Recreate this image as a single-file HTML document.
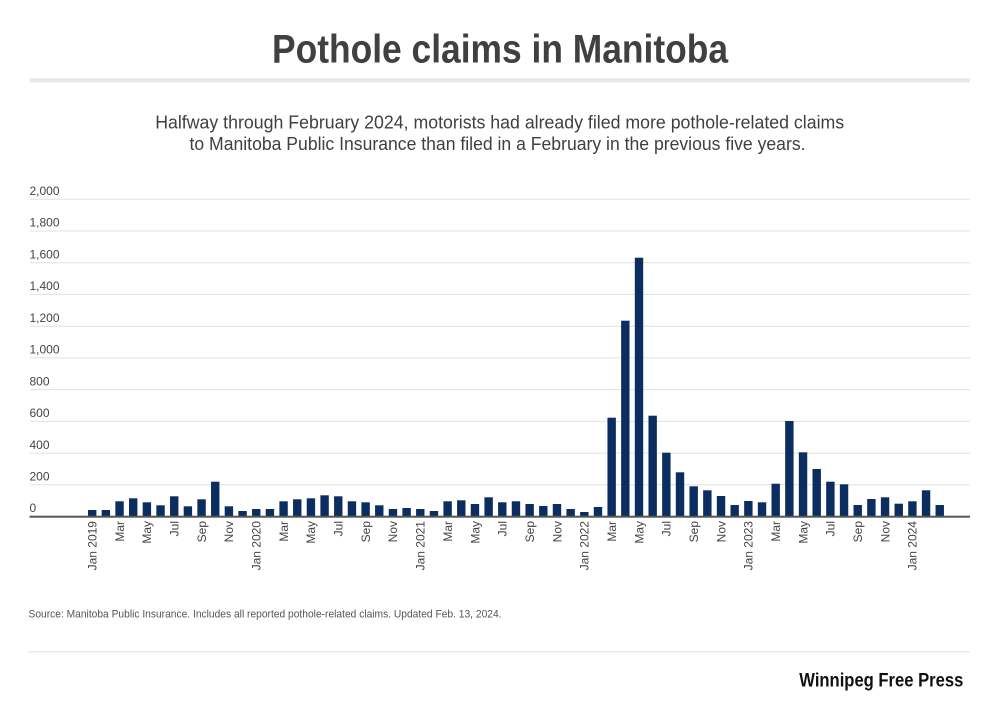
<!DOCTYPE html>
<html><head><meta charset="utf-8"><style>
html,body{margin:0;padding:0;background:#fff;}
svg{display:block;font-family:"Liberation Sans",Arial,sans-serif;}
</style></head><body>
<svg width="1000" height="713" viewBox="0 0 1000 713" xmlns="http://www.w3.org/2000/svg">
<rect width="1000" height="713" fill="#fff"/>
<text x="500" y="62.3" text-anchor="middle" font-size="40" font-weight="bold" fill="#404040" textLength="456" lengthAdjust="spacingAndGlyphs">Pothole claims in Manitoba</text>
<rect x="29.5" y="78.3" width="940.5" height="4" fill="#e8e8e8"/>
<text x="499.7" y="128.5" text-anchor="middle" font-size="18" fill="#404040" textLength="689" lengthAdjust="spacingAndGlyphs">Halfway through February 2024, motorists had already filed more pothole-related claims</text>
<text x="497.5" y="150" text-anchor="middle" font-size="18" fill="#404040" textLength="616" lengthAdjust="spacingAndGlyphs">to Manitoba Public Insurance than filed in a February in the previous five years.</text>
<g stroke="#e0e0e0" stroke-width="1">
<line x1="30" x2="970" y1="199.3" y2="199.3"/>
<line x1="30" x2="970" y1="231" y2="231"/>
<line x1="30" x2="970" y1="262.7" y2="262.7"/>
<line x1="30" x2="970" y1="294.4" y2="294.4"/>
<line x1="30" x2="970" y1="326.2" y2="326.2"/>
<line x1="30" x2="970" y1="357.9" y2="357.9"/>
<line x1="30" x2="970" y1="389.6" y2="389.6"/>
<line x1="30" x2="970" y1="421.4" y2="421.4"/>
<line x1="30" x2="970" y1="453.1" y2="453.1"/>
<line x1="30" x2="970" y1="484.8" y2="484.8"/>
</g>
<g font-size="12" fill="#444">
<text x="29.5" y="195">2,000</text>
<text x="29.5" y="226.7">1,800</text>
<text x="29.5" y="258.4">1,600</text>
<text x="29.5" y="290.1">1,400</text>
<text x="29.5" y="321.9">1,200</text>
<text x="29.5" y="353.6">1,000</text>
<text x="29.5" y="385.3">800</text>
<text x="29.5" y="417.1">600</text>
<text x="29.5" y="448.8">400</text>
<text x="29.5" y="480.5">200</text>
<text x="29.5" y="512.2">0</text>
</g>
<g fill="#0b2d5f">
<rect x="88.0" y="510.0" width="8.4" height="6.7"/>
<rect x="101.67" y="510.0" width="8.4" height="6.7"/>
<rect x="115.34" y="501.3" width="8.4" height="15.4"/>
<rect x="129.01" y="498.3" width="8.4" height="18.4"/>
<rect x="142.68" y="502.3" width="8.4" height="14.4"/>
<rect x="156.35" y="505.3" width="8.4" height="11.4"/>
<rect x="170.02" y="496.3" width="8.4" height="20.4"/>
<rect x="183.69" y="506.3" width="8.4" height="10.4"/>
<rect x="197.36" y="499.3" width="8.4" height="17.4"/>
<rect x="211.03" y="481.7" width="8.4" height="35.0"/>
<rect x="224.7" y="506.3" width="8.4" height="10.4"/>
<rect x="238.37" y="511.0" width="8.4" height="5.7"/>
<rect x="252.04" y="509.0" width="8.4" height="7.7"/>
<rect x="265.71" y="509.0" width="8.4" height="7.7"/>
<rect x="279.38" y="501.3" width="8.4" height="15.4"/>
<rect x="293.05" y="499.3" width="8.4" height="17.4"/>
<rect x="306.72" y="498.3" width="8.4" height="18.4"/>
<rect x="320.39" y="495.3" width="8.4" height="21.4"/>
<rect x="334.06" y="496.3" width="8.4" height="20.4"/>
<rect x="347.73" y="501.3" width="8.4" height="15.4"/>
<rect x="361.4" y="502.3" width="8.4" height="14.4"/>
<rect x="375.07" y="505.3" width="8.4" height="11.4"/>
<rect x="388.74" y="509.0" width="8.4" height="7.7"/>
<rect x="402.41" y="508.0" width="8.4" height="8.7"/>
<rect x="416.08" y="509.0" width="8.4" height="7.7"/>
<rect x="429.75" y="511.0" width="8.4" height="5.7"/>
<rect x="443.42" y="501.3" width="8.4" height="15.4"/>
<rect x="457.09" y="500.3" width="8.4" height="16.4"/>
<rect x="470.76" y="504.0" width="8.4" height="12.7"/>
<rect x="484.43" y="497.3" width="8.4" height="19.4"/>
<rect x="498.1" y="502.3" width="8.4" height="14.4"/>
<rect x="511.77" y="501.3" width="8.4" height="15.4"/>
<rect x="525.44" y="504.0" width="8.4" height="12.7"/>
<rect x="539.11" y="506.0" width="8.4" height="10.7"/>
<rect x="552.78" y="504.0" width="8.4" height="12.7"/>
<rect x="566.45" y="509.0" width="8.4" height="7.7"/>
<rect x="580.12" y="512.0" width="8.4" height="4.7"/>
<rect x="593.79" y="507.0" width="8.4" height="9.7"/>
<rect x="607.46" y="417.7" width="8.4" height="99.0"/>
<rect x="621.13" y="320.7" width="8.4" height="196.0"/>
<rect x="634.8" y="257.7" width="8.4" height="259.0"/>
<rect x="648.47" y="415.7" width="8.4" height="101.0"/>
<rect x="662.14" y="452.7" width="8.4" height="64.0"/>
<rect x="675.81" y="472.3" width="8.4" height="44.4"/>
<rect x="689.48" y="486.3" width="8.4" height="30.4"/>
<rect x="703.15" y="490.3" width="8.4" height="26.4"/>
<rect x="716.82" y="496.0" width="8.4" height="20.7"/>
<rect x="730.49" y="505.0" width="8.4" height="11.7"/>
<rect x="744.16" y="501.0" width="8.4" height="15.7"/>
<rect x="757.83" y="502.3" width="8.4" height="14.4"/>
<rect x="771.5" y="483.7" width="8.4" height="33.0"/>
<rect x="785.17" y="421.0" width="8.4" height="95.7"/>
<rect x="798.84" y="452.3" width="8.4" height="64.4"/>
<rect x="812.51" y="469.0" width="8.4" height="47.7"/>
<rect x="826.18" y="481.7" width="8.4" height="35.0"/>
<rect x="839.85" y="484.3" width="8.4" height="32.4"/>
<rect x="853.52" y="505.0" width="8.4" height="11.7"/>
<rect x="867.19" y="499.0" width="8.4" height="17.7"/>
<rect x="880.86" y="497.3" width="8.4" height="19.4"/>
<rect x="894.53" y="503.7" width="8.4" height="13.0"/>
<rect x="908.2" y="501.3" width="8.4" height="15.4"/>
<rect x="921.87" y="490.3" width="8.4" height="26.4"/>
<rect x="935.54" y="505.0" width="8.4" height="11.7"/>
</g>
<rect x="29.5" y="515.7" width="940.5" height="2" fill="#555"/>
<g font-size="12" fill="#444" text-anchor="end">
<text transform="translate(96.5,521) rotate(-90)">Jan 2019</text>
<text transform="translate(123.84,521) rotate(-90)">Mar</text>
<text transform="translate(151.18,521) rotate(-90)">May</text>
<text transform="translate(178.52,521) rotate(-90)">Jul</text>
<text transform="translate(205.86,521) rotate(-90)">Sep</text>
<text transform="translate(233.2,521) rotate(-90)">Nov</text>
<text transform="translate(260.54,521) rotate(-90)">Jan 2020</text>
<text transform="translate(287.88,521) rotate(-90)">Mar</text>
<text transform="translate(315.22,521) rotate(-90)">May</text>
<text transform="translate(342.56,521) rotate(-90)">Jul</text>
<text transform="translate(369.9,521) rotate(-90)">Sep</text>
<text transform="translate(397.24,521) rotate(-90)">Nov</text>
<text transform="translate(424.58,521) rotate(-90)">Jan 2021</text>
<text transform="translate(451.92,521) rotate(-90)">Mar</text>
<text transform="translate(479.26,521) rotate(-90)">May</text>
<text transform="translate(506.6,521) rotate(-90)">Jul</text>
<text transform="translate(533.94,521) rotate(-90)">Sep</text>
<text transform="translate(561.28,521) rotate(-90)">Nov</text>
<text transform="translate(588.62,521) rotate(-90)">Jan 2022</text>
<text transform="translate(615.96,521) rotate(-90)">Mar</text>
<text transform="translate(643.3,521) rotate(-90)">May</text>
<text transform="translate(670.64,521) rotate(-90)">Jul</text>
<text transform="translate(697.98,521) rotate(-90)">Sep</text>
<text transform="translate(725.32,521) rotate(-90)">Nov</text>
<text transform="translate(752.66,521) rotate(-90)">Jan 2023</text>
<text transform="translate(780,521) rotate(-90)">Mar</text>
<text transform="translate(807.34,521) rotate(-90)">May</text>
<text transform="translate(834.68,521) rotate(-90)">Jul</text>
<text transform="translate(862.02,521) rotate(-90)">Sep</text>
<text transform="translate(889.36,521) rotate(-90)">Nov</text>
<text transform="translate(916.7,521) rotate(-90)">Jan 2024</text>
</g>
<text x="28.5" y="617.3" font-size="11" fill="#555" textLength="473" lengthAdjust="spacingAndGlyphs">Source: Manitoba Public Insurance. Includes all reported pothole-related claims. Updated Feb. 13, 2024.</text>
<rect x="28.5" y="651" width="941.5" height="1.5" fill="#e8e8e8"/>
<text x="799.3" y="686.7" font-size="19.5" font-weight="bold" fill="#111" textLength="164" lengthAdjust="spacingAndGlyphs">Winnipeg Free Press</text>
</svg>
</body></html>
